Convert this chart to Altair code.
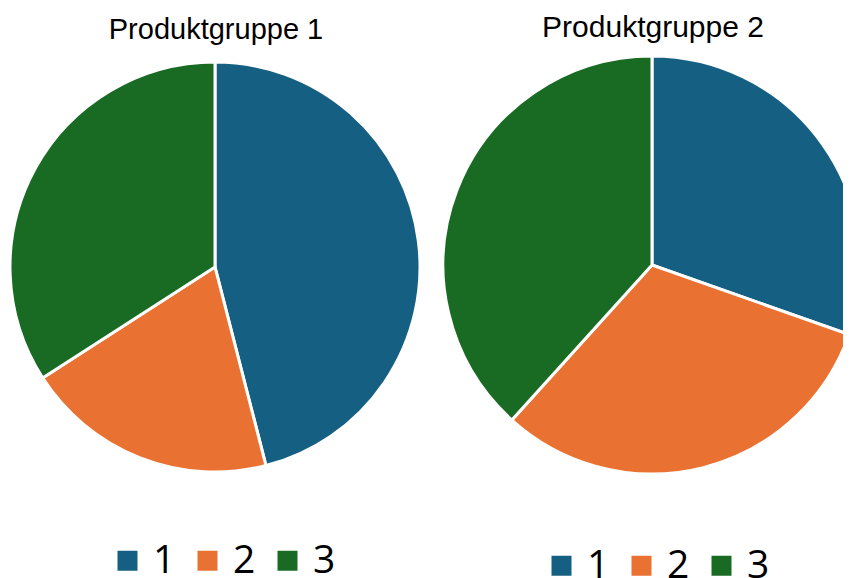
import altair as alt
import pandas as pd

titles = ["Produktgruppe 1", "Produktgruppe 2"]
categories = ["1", "2", "3"]
group1_values = [46.0, 19.9, 34.1]
group2_values = [30.4, 31.3, 38.3]
colors = ["#156082", "#E97132", "#196B24"]

def pie_layers(title, values, cx, cy, r, tx, ty, tsize, lx, ly):
    df = pd.DataFrame({"category": categories, "value": values})
    arc = alt.Chart(df).mark_arc(stroke="white", strokeWidth=3).encode(
        theta=alt.Theta("value:Q", stack=True),
        color=alt.Color(
            "category:N",
            scale=alt.Scale(domain=categories, range=colors),
            legend=alt.Legend(
                title=None, orient="none", legendX=lx, legendY=ly,
                direction="horizontal", symbolType="square", symbolSize=400,
                symbolStrokeWidth=0, symbolOpacity=1,
                labelFontSize=39, labelFont="Open Sans", labelColor="#000000",
                labelOffset=6, columnPadding=12, padding=0,
            ),
        ),
        order=alt.Order("category:N"),
        x=alt.value(cx), y=alt.value(cy), radius=alt.value(r),
    )
    tdf = pd.DataFrame({"title": [title]})
    txt = alt.Chart(tdf).mark_text(
        font="Liberation Sans", fontSize=tsize, color="#000000",
        align="center", baseline="alphabetic",
    ).encode(text="title:N", x=alt.value(tx), y=alt.value(ty))
    return arc, txt

a1, t1 = pie_layers(titles[0], group1_values, 207, 259, 205, 208, 31, 29, 100, 533)
a2, t2 = pie_layers(titles[1], group2_values, 644, 257, 209, 645, 29, 30, 534, 538)

chart = alt.layer(a1, t1, a2, t2).resolve_scale(
    color="independent", theta="independent"
).properties(
    width=835, height=570, padding=0,
    autosize=alt.AutoSizeParams(type="none"),
).configure_view(stroke=None)

chart.save("out.html", embed_options={"renderer": "svg", "actions": False})
